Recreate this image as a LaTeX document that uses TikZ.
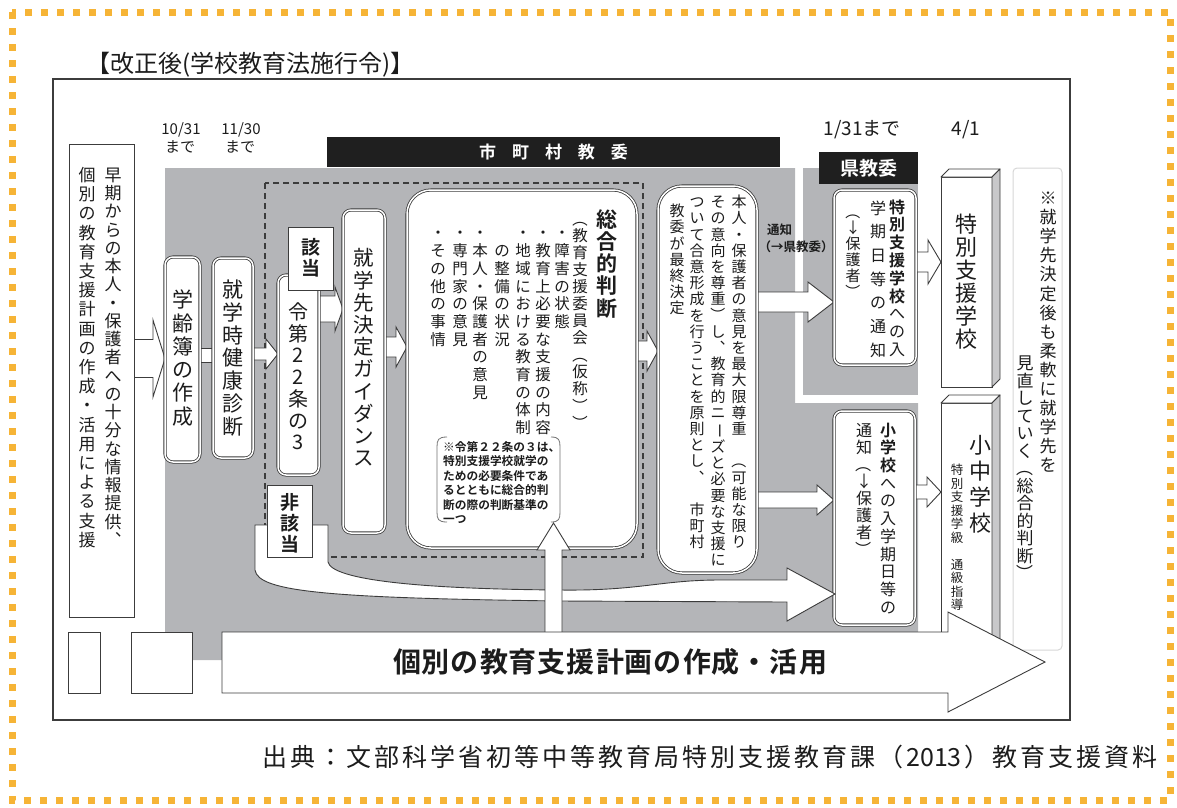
\documentclass[tikz,border=0pt]{standalone}
\usepackage{fontspec}
\setmainfont{Noto Sans CJK JP}[BoldFont={Noto Sans CJK JP Bold}]
\usepackage{graphicx}
\usetikzlibrary{calc}
\pgfdeclarelayer{back}
\pgfdeclarelayer{mid}
\pgfsetlayers{back,mid,main}
\definecolor{orn}{RGB}{246,180,54}
\definecolor{gry}{RGB}{180,181,184}
\definecolor{edge}{RGB}{60,60,60}
\definecolor{txt}{RGB}{28,28,28}
\definecolor{side}{RGB}{200,200,202}
\definecolor{lgr}{RGB}{215,215,215}

\ExplSyntaxOn
\dim_new:N \l__vt_pitch_dim
\cs_new_protected:Npn \__vt_char:n #1
  {
    \str_case:nnF {#1}
      {
        {（} { \rotatebox[origin=c]{-90}{（} }
        {）} { \rotatebox[origin=c]{-90}{）} }
        {ー} { \rotatebox[origin=c]{-90}{ー} }
        {、} { ︑ }
      }
      {#1}
  }
\cs_new_protected:Npn \__vt_cell:n #1
  {
    \hbox_to_wd:nn {1em}
      {
        \hss \__vt_char:n {#1} \hss
        \vrule width 0pt height \dim_eval:n {0.5\l__vt_pitch_dim + 0.38em}
          depth \dim_eval:n {0.5\l__vt_pitch_dim - 0.38em} \relax
      }
  }
\NewDocumentCommand \VCol { m m }
  {
    \group_begin:
      \dim_set:Nn \l__vt_pitch_dim {#1}
      \vtop { \offinterlineskip \tl_map_inline:nn {#2} { \__vt_cell:n {##1} } }
    \group_end:
  }
\NewDocumentCommand \Spaced { m m }
  { \tl_map_inline:nn {#2} { ##1 \kern #1 \relax } \unkern }
\ExplSyntaxOff

\tikzset{
  vt/.style={inner sep=0pt, outer sep=0pt, anchor=north, text=txt},
  vc/.style={inner sep=0pt, outer sep=0pt, anchor=center, text=txt},
  fnt/.style={font=\fontsize{#1}{#1}\selectfont},
  fntb/.style={font=\fontsize{#1}{#1}\selectfont\bfseries},
  dbox/.style={draw=edge, line width=0.8pt, double=white, double distance=1.5pt, fill=white, rounded corners=8pt, inner sep=0pt, outer sep=0pt},
  bigbox/.style={dbox, rounded corners=24pt},
  pbox/.style={draw=edge, line width=1pt, fill=white, inner sep=0pt, outer sep=0pt},
  barrow/.style={fill=white, draw=edge, line width=0.9pt, line join=miter},
  blackbar/.style={fill=black!88, draw=none, inner sep=0pt, outer sep=0pt},
  face/.style={draw=edge, line width=0.9pt, line join=round},
}

\newcommand\HArrow[6]{%
  \filldraw[barrow] let \p1=(#1), \p2=(#2), \p3=(0,#3) in
    (\x1,\y3+#4pt) -- (\x2-#6pt,\y3+#4pt) -- (\x2-#6pt,\y3+#5pt) -- (\x2,\y3)
    -- (\x2-#6pt,\y3-#5pt) -- (\x2-#6pt,\y3-#4pt) -- (\x1,\y3-#4pt);}
\newcommand\HBand[4]{%
  \fill[white] let \p1=(#1), \p2=(#2), \p3=(0,#3) in (\x1,\y3+#4pt) rectangle (\x2,\y3-#4pt);
  \draw[edge, line width=0.9pt] let \p1=(#1), \p2=(#2), \p3=(0,#3) in
    (\x1,\y3+#4pt) -- (\x2,\y3+#4pt) (\x1,\y3-#4pt) -- (\x2,\y3-#4pt);}

\begin{document}
\begin{tikzpicture}[x=1pt,y=-1pt]
\useasboundingbox (0,0) rectangle (1177,807);

% outer orange dotted border and inner frame
\draw[orn, line width=7pt, dash pattern=on 7pt off 9pt] (12,12) rectangle (1170,800);
\draw[edge, line width=1.1pt] (53,79) rectangle (1070,720);

\node[anchor=west, inner sep=0pt, text=txt, fnt=24] (title) at (86,65) {【改正後(学校教育法施行令)】};
\node[vc, fnt=25] (cap) at (710,757) {\Spaced{3pt}{出典：文部科学省初等中等教育局特別支援教育課（{2013}）教育支援資料}};

% gray regions
\begin{pgfonlayer}{back}
\fill[gry] (165,168) -- (795,168) -- (795,403) -- (918,403) -- (918,660) -- (165,660) -- cycle;
\fill[gry] (803,168) rectangle (918,395);
\draw[edge, line width=1.1pt, dash pattern=on 6pt off 4pt] (265,183) rectangle (643,557);
\end{pgfonlayer}

% black labels
\node[blackbar, minimum width=453, minimum height=30] (bar) at (553.5,152) {};
\node[vc, text=white, fntb=17] (bart) at (bar) {\Spaced{16pt}{市町村教委}};
\node[blackbar, minimum width=99, minimum height=32] (kbar) at (868.5,168) {};
\node[vc, text=white, fntb=19] (kbart) at (kbar) {県教委};

% dates
\node[vc, fnt=15] (d1a) at (181,130) {10/31};
\node[vc, fnt=15] (d1b) at (180,147) {まで};
\node[vc, fnt=15] (d2a) at (241,130) {11/30};
\node[vc, fnt=15] (d2b) at (240,147) {まで};
\node[vc, fnt=19] (d3) at (862,130) {1/31まで};
\node[vc, fnt=19] (d4) at (966,130) {4/1};

% boxes
\node[pbox, minimum width=65, minimum height=473] (sou) at (101.5,380.5) {};
\node[pbox, minimum width=32, minimum height=61] (sb1) at (84,662.5) {};
\node[pbox, minimum width=61, minimum height=61] (sb2) at (161.5,662.5) {};
\node[dbox, minimum width=35, minimum height=205] (gak) at (182.5,359.5) {};
\node[dbox, minimum width=40, minimum height=200] (ken) at (233,358) {};
\node[dbox, minimum width=41, minimum height=200] (rei) at (298.5,375) {};
\node[pbox, minimum width=45, minimum height=63] (gai) at (310.5,258.5) {};
\node[dbox, minimum width=42, minimum height=323] (gui) at (364,371.5) {};
\node[bigbox, minimum width=230, minimum height=358] (sog) at (522,369) {};
\node[bigbox, minimum width=99, minimum height=387] (hon) at (707.5,379.5) {};
\node[dbox, minimum width=82, minimum height=175] (tok) at (875,277.5) {};
\node[dbox, minimum width=81, minimum height=214] (sho) at (874.5,518) {};
\node[draw=lgr, line width=1pt, fill=white, rounded corners=4pt, minimum width=49, minimum height=482, inner sep=0pt, outer sep=0pt] (mnote) at (1037.5,409) {};

% 3D school blocks
\node[pbox, minimum width=51, minimum height=210] (b1) at (966.5,282) {};
\filldraw[face, fill=white] (b1.north west) -- ++(8,-8) -- ($(b1.north east)+(8,-8)$) -- (b1.north east) -- cycle;
\filldraw[face, fill=side] (b1.north east) -- ++(8,-8) -- ($(b1.south east)+(8,-8)$) -- (b1.south east) -- cycle;
\node[pbox, minimum width=51, minimum height=257] (b2) at (966.5,531.5) {};
\filldraw[face, fill=white] (b2.north west) -- ++(8,-8) -- ($(b2.north east)+(8,-8)$) -- (b2.north east) -- cycle;
\filldraw[face, fill=side] (b2.north east) -- ++(8,-8) -- ($(b2.south east)+(8,-8)$) -- (b2.south east) -- cycle;

% arrows between boxes (under the boxes)
\begin{pgfonlayer}{mid}
\HArrow{sou.east}{gak.west}{358.5}{19}{38.5}{12}
\HBand{gak.east}{ken.west}{355}{7}
\HArrow{ken.east}{rei.west}{354}{6}{15}{12}
\HArrow{rei.east}{gui.west}{309}{13}{22}{8}
\HArrow{gui.east}{sog.west}{347}{10}{20}{11}
\HArrow{sog.east}{hon.west}{351}{10}{20}{11}
\HArrow{hon.east}{tok.west}{302}{10}{20}{26}
\HArrow{tok.east}{b1.west}{262}{10}{22}{13}
\HArrow{hon.east}{sho.west}{500}{8}{15}{17}
\HArrow{sho.east}{b2.west}{492}{7}{15}{14}
\end{pgfonlayer}

% 非該当 path
\filldraw[barrow] (255,525) -- (328,525) -- (328,562)
  .. controls (332,580) and (420,589) .. (560,590)
  .. controls (640,591) and (660,580) .. (720,580) -- (787,580) -- (787,568) -- (835,594)
  -- (787,621) -- (787,602) -- (560,601)
  .. controls (330,598) and (258,592) .. (255,570) -- cycle;
\node[pbox, minimum width=45, minimum height=72] (hig) at (289.5,521) {};

% note bracket inside sog
\draw[black!55, line width=0.8pt] (447,437) .. controls (438,437) and (437,440) .. (437,447) -- (437,512) .. controls (437,519) and (438,522) .. (447,522);
\draw[black!55, line width=0.8pt] (551,437) .. controls (559,437) and (560,440) .. (560,447) -- (560,512) .. controls (560,519) and (559,522) .. (551,522);

% bottom arrow and up arrow
\coordinate (tipA) at (553.5,523);
\coordinate (baseA) at (553.5,632);
\filldraw[barrow] let \p1=(baseA), \p2=(tipA) in
  (\x2-8.5pt,\y1) -- (\x2-8.5pt,\y2-27pt) -- (\x2-16.5pt,\y2-27pt) -- (\x2,\y2)
  -- (\x2+16.5pt,\y2-27pt) -- (\x2+8.5pt,\y2-27pt) -- (\x2+8.5pt,\y1);
\filldraw[barrow] (222,632) -- (948,632) -- (948,612) -- (1045,662) -- (948,712) -- (948,693) -- (222,693) -- cycle;
\node[vc, fntb=28] (plan) at (610,662) {\Spaced{1pt}{個別の教育支援計画の作成・活用}};

% vertical texts
\node[vt, fnt=17] (s1) at (113,165.9) {\VCol{18.25pt}{早期からの本人・保護者への十分な情報提供、}};
\node[vt, fnt=17] (s2) at (87,165.4) {\VCol{19.2pt}{個別の教育支援計画の作成・活用による支援}};
\node[vc, fnt=21] (gakt) at (182.5,358) {\VCol{23.3pt}{学齢簿の作成}};
\node[vc, fnt=21] (kent) at (233,358) {\VCol{22.8pt}{就学時健康診断}};
\node[vc, fnt=20] (reit) at (298.5,377) {\VCol{21.7pt}{令第22条の3}};
\node[vc, fntb=19] (gait) at (310.5,258) {\VCol{21pt}{該当}};
\node[vc, fntb=19] (higt) at (289.5,523) {\VCol{21pt}{非該当}};
\node[vc, fnt=20.5] (guit) at (364,358) {\VCol{22.2pt}{就学先決定ガイダンス}};

\node[vt, fntb=21] (g1) at (607,207.9) {\VCol{22.3pt}{総合的判断}};
\node[vt, fnt=15.5] (g2) at (580,210.5) {\VCol{17pt}{（教育支援委員会（仮称））}};
\node[vt, fnt=15.5] (g3) at (562,224.2) {\VCol{17.7pt}{・障害の状態}};
\node[vt, fnt=15.5] (g4) at (543,224.2) {\VCol{17.7pt}{・教育上必要な支援の内容}};
\node[vt, fnt=15.5] (g5) at (523,224.2) {\VCol{17.7pt}{・地域における教育の体制}};
\node[vt, fnt=15.5] (g6) at (502,242) {\VCol{17.7pt}{の整備の状況}};
\node[vt, fnt=15.5] (g7) at (480,224.2) {\VCol{17.7pt}{・本人・保護者の意見}};
\node[vt, fnt=15.5] (g8) at (460,224.2) {\VCol{17.7pt}{・専門家の意見}};
\node[vt, fnt=15.5] (g9) at (438,224.2) {\VCol{17.7pt}{・その他の事情}};
\node[anchor=north west, inner sep=0pt, text=txt, align=left, font=\fontsize{11.7}{14.5}\selectfont\bfseries] (gnote) at (443,441)
  {※令第２２条の３は、\\特別支援学校就学の\\ための必要条件であ\\るとともに総合的判\\断の際の判断基準の\\一つ};

\node[vt, fnt=15] (h1) at (739,193.9) {\VCol{16.2pt}{本人・保護者の意見を最大限尊重　（可能な限り}};
\node[vt, fnt=15] (h2) at (718,193.9) {\VCol{16.2pt}{その意向を尊重）し、教育的ニーズと必要な支援に}};
\node[vt, fnt=15] (h3) at (697,193.9) {\VCol{16.2pt}{ついて合意形成を行うことを原則とし、　市町村}};
\node[vt, fnt=15] (h4) at (677,202.9) {\VCol{16.2pt}{教委が最終決定}};

\node[anchor=west, inner sep=0pt, text=txt, fntb=12.5] (tsu1) at (767,230) {通知};
\node[vc, fntb=12.5] (tsu2) at (796,247) {（→県教委）};

\node[vt, fnt=16] (t1) at (897,198.1) {\VCol{17.8pt}{{\bfseries 特}{\bfseries 別}{\bfseries 支}{\bfseries 援}{\bfseries 学}{\bfseries 校}への入}};
\node[vt, fnt=16] (t2) at (878,196.2) {\VCol{23.7pt}{学期日等の通知}};
\node[vt, fnt=15] (t3) at (853,204) {\VCol{16pt}{（↓保護者）}};

\node[vt, fnt=16] (p1) at (888,421.2) {\VCol{17.7pt}{{\bfseries 小}{\bfseries 学}{\bfseries 校}への入学期日等の}};
\node[vt, fnt=16] (p2) at (864,421.5) {\VCol{17pt}{通知（↓保護者）}};

\node[vc, fnt=22] (b1t) at (966.5,282) {\VCol{23pt}{特別支援学校}};
\node[vc, fnt=22] (b2t) at (980,484) {\VCol{26pt}{小中学校}};
\node[vt, fnt=12.5] (b2s) at (957,463.2) {\VCol{13.5pt}{特別支援学級　通級指導}};

\node[vt, fnt=17] (m1) at (1048,188.5) {\VCol{19.1pt}{※就学先決定後も柔軟に就学先を}};
\node[vt, fnt=17] (m2) at (1025,354.3) {\VCol{17.5pt}{見直していく（総合的判断）}};
\end{tikzpicture}
\end{document}
